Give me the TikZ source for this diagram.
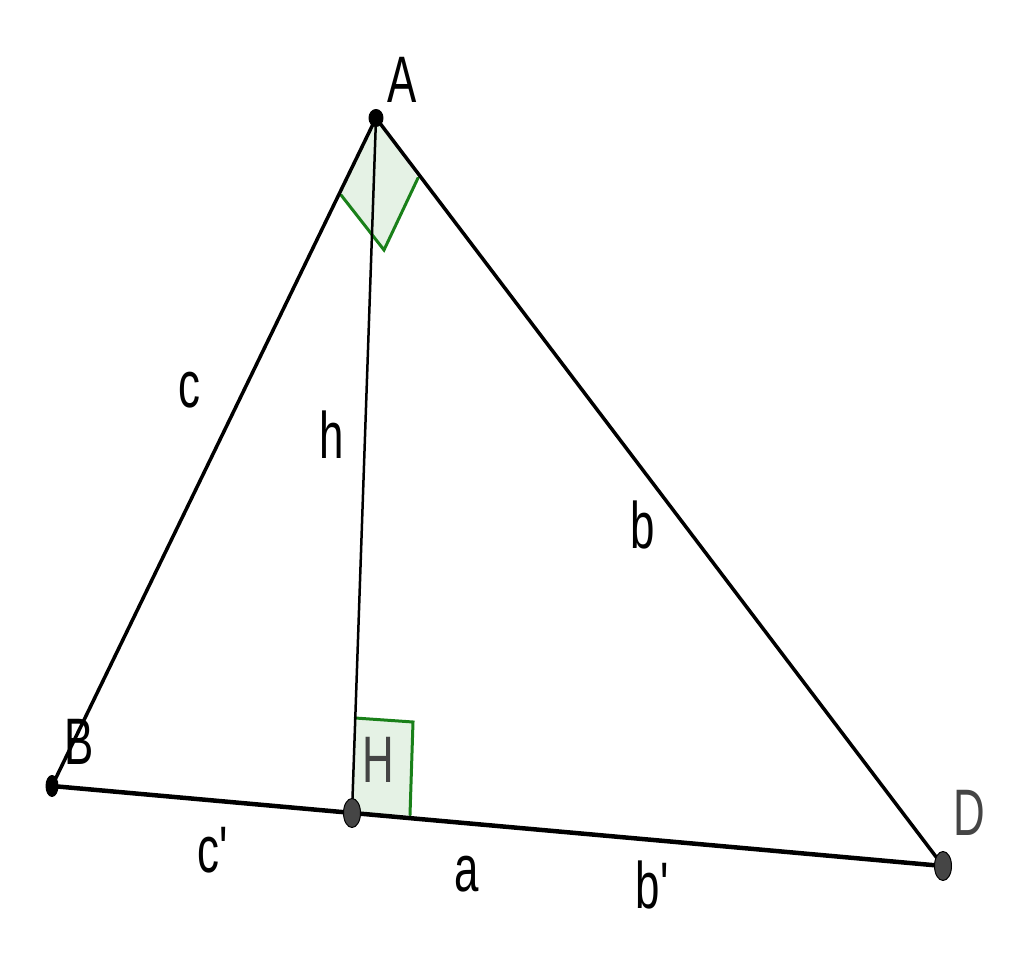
\documentclass[tikz,border=0pt]{standalone}
\usepackage{fontspec}
\usepackage{graphicx}
\setmainfont{Liberation Sans}[Ligatures=TeXOff]
\usetikzlibrary{shapes.geometric}
\definecolor{markgreen}{rgb}{0.1,0.5,0.1}
\definecolor{markfill}{rgb}{0.9,0.95,0.9}
\definecolor{ptgray}{rgb}{0.27,0.27,0.27}
\newcommand\tall[1]{\scalebox{1}[1.5]{#1}}
\tikzset{
  lbl/.style={font=\fontsize{44}{50}\selectfont, inner sep=0pt},
  pt/.style={ellipse, draw=black, line width=1bp, inner sep=0pt},
  rmark/.style={draw=markgreen, line width=3bp, line join=miter},
}
\begin{document}
\begin{tikzpicture}[line join=round,line cap=round]
  \useasboundingbox (0bp,0bp) rectangle (1024bp,971bp);
  \coordinate (A) at (376bp,853bp);
  \coordinate (B) at (52bp,185bp);
  \coordinate (D) at (943bp,105bp);
  \coordinate (H) at (352bp,158bp);
  % right angle at A
  \fill[markfill] (A) -- (341bp,776bp) -- (384bp,721bp) -- (418bp,793bp) -- cycle;
  \draw[rmark] (341bp,776bp) -- (384bp,721bp) -- (418bp,793bp);
  % right angle at H
  \fill[markfill] (H) -- (355bp,253bp) -- (413bp,249bp) -- (410bp,156bp) -- cycle;
  \draw[rmark] (355bp,253bp) -- (413bp,249bp) -- (410bp,156bp);
  % Edge: A -- B
  \draw[line width=3.5bp] (A) -- (B);
  % Edge: A -- D
  \draw[line width=3.5bp] (A) -- (D);
  % Edge: A -- H
  \draw[line width=2.5bp] (A) -- (H);
  % Edge: B -- D
  \draw[line width=4.5bp] (B) -- (D);
  % Node: points
  \node[pt, fill=black, minimum width=14bp, minimum height=17bp] (Adot) at (A) {};
  \node[pt, fill=black, minimum width=12bp, minimum height=21bp] (Bdot) at (B) {};
  \node[pt, fill=ptgray, minimum width=17bp, minimum height=29bp] (Hdot) at (H) {};
  \node[pt, fill=ptgray, minimum width=17bp, minimum height=29bp] (Ddot) at (D) {};
  % Node: labels
  \node[lbl] (Alabel) at (402bp,891bp) {\tall{A}};
  \node[lbl] (Blabel) at (79bp,229bp) {\tall{B}};
  \node[lbl, text=ptgray] (Dlabel) at (969bp,158bp) {\tall{D}};
  \node[lbl, text=ptgray] (Hlabel) at (378bp,211bp) {\tall{H}};
  \node[lbl] (clabel) at (189bp,581bp) {\tall{c}};
  \node[lbl] (hlabel) at (332bp,536bp) {\tall{h}};
  \node[lbl] (blabel) at (643bp,446bp) {\tall{b}};
  \node[lbl] (cplabel) at (213bp,121bp) {\tall{c'}};
  \node[lbl] (alabel) at (467bp,97bp) {\tall{a}};
  \node[lbl] (bplabel) at (652bp,86bp) {\tall{b'}};
\end{tikzpicture}
\end{document}
